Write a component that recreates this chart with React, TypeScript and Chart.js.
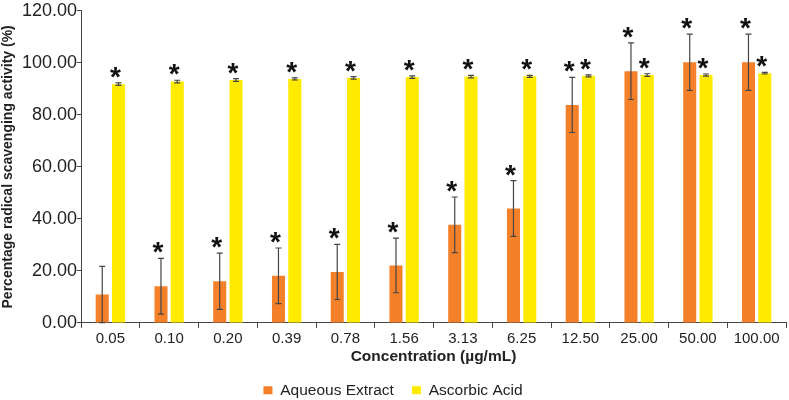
import { useEffect, useRef } from 'react';
import { Chart, registerables } from 'chart.js';

Chart.register(...registerables);

const concentrations = ['0.05', '0.10', '0.20', '0.39', '0.78', '1.56', '3.13', '6.25', '12.50', '25.00', '50.00', '100.00'];
const aqueousValues = [10.9, 14.1, 16.0, 18.1, 19.6, 22.1, 37.7, 44.0, 83.8, 96.8, 100.2, 100.2];
const aqueousErrors = [10.8, 10.7, 10.8, 10.7, 10.6, 10.5, 10.7, 10.7, 10.6, 10.9, 10.8, 10.8];
const ascorbicValues = [91.8, 92.8, 93.4, 93.8, 94.2, 94.5, 94.7, 94.8, 95.0, 95.3, 95.3, 96.0];
const ascorbicErrors = [0.5, 0.5, 0.5, 0.4, 0.5, 0.5, 0.5, 0.4, 0.4, 0.5, 0.4, 0.3];
const aqueousStars = [false, true, true, true, true, true, true, true, true, true, true, true];
const ascorbicStars = [true, true, true, true, true, true, true, true, true, true, true, true];

const FONT = '"Liberation Sans", Arial, sans-serif';

const errorBarPlugin = {
  id: 'errorBars',
  afterDatasetsDraw(chart: any) {
    const ctx = chart.ctx;
    const yScale = chart.scales.y;
    const errs = [aqueousErrors, ascorbicErrors];
    const stars = [aqueousStars, ascorbicStars];
    chart.data.datasets.forEach((ds: any, di: number) => {
      const meta = chart.getDatasetMeta(di);
      meta.data.forEach((bar: any, i: number) => {
        const v = ds.data[i];
        const e = errs[di][i];
        const top = yScale.getPixelForValue(v + e);
        const bottom = yScale.getPixelForValue(Math.max(0, v - e));
        ctx.save();
        ctx.strokeStyle = '#444';
        ctx.lineWidth = 1.2;
        ctx.beginPath();
        ctx.moveTo(bar.x, top);
        ctx.lineTo(bar.x, bottom);
        ctx.moveTo(bar.x - 3, top);
        ctx.lineTo(bar.x + 3, top);
        ctx.moveTo(bar.x - 3, bottom);
        ctx.lineTo(bar.x + 3, bottom);
        ctx.stroke();
        if (stars[di][i]) {
          ctx.fillStyle = '#111';
          ctx.font = 'bold 28px ' + FONT;
          ctx.textAlign = 'center';
          ctx.textBaseline = 'alphabetic';
          ctx.fillText('*', bar.x - 3, top + 3);
        }
        ctx.restore();
      });
    });
  },
};

export default function App() {
  const canvasRef = useRef<HTMLCanvasElement>(null);
  const chartRef = useRef<Chart | null>(null);

  useEffect(() => {
    document.body.style.margin = '0';
    if (!canvasRef.current) return;
    const ctx = canvasRef.current.getContext('2d');
    if (!ctx) return;

    chartRef.current = new Chart(ctx, {
      type: 'bar',
      data: {
        labels: concentrations,
        datasets: [
          {
            label: 'Aqueous Extract',
            data: aqueousValues,
            backgroundColor: '#F5802A',
            categoryPercentage: 0.555,
            barPercentage: 0.8,
          },
          {
            label: 'Ascorbic Acid',
            data: ascorbicValues,
            backgroundColor: '#FFEB00',
            categoryPercentage: 0.555,
            barPercentage: 0.8,
          },
        ],
      },
      options: {
        animation: false,
        responsive: false,
        layout: { padding: { top: 2, right: 3, left: 0, bottom: -8 } },
        plugins: {
          legend: {
            position: 'bottom',
            labels: {
              color: '#222',
              font: { family: FONT, size: 15.5 },
              boxWidth: 9,
              boxHeight: 8,
              padding: 18,
            },
          },
          tooltip: { enabled: false },
        },
        scales: {
          x: {
            grid: {
              display: true,
              drawOnChartArea: false,
              drawTicks: true,
              tickLength: 5,
              color: '#444',
            },
            border: { display: true, color: '#444' },
            ticks: {
              color: '#222',
              font: { family: FONT, size: 15 },
              padding: 2,
              maxRotation: 0,
              autoSkip: false,
            },
            title: {
              display: true,
              text: 'Concentration (µg/mL)',
              color: '#222',
              font: { family: FONT, size: 15.5, weight: 'bold' },
              padding: { top: -2, bottom: -2 },
            },
          },
          y: {
            min: 0,
            max: 120,
            afterFit: (scale: any) => {
              scale.width = 81;
            },
            grid: {
              display: true,
              drawOnChartArea: false,
              drawTicks: true,
              tickLength: 4,
              color: '#444',
            },
            border: { display: true, color: '#444' },
            ticks: {
              stepSize: 20,
              color: '#222',
              font: { family: FONT, size: 18 },
              padding: 0,
              callback: (value: any) => Number(value).toFixed(2),
            },
            title: {
              display: true,
              text: 'Percentage radical scavenging activity (%)',
              color: '#222',
              font: { family: FONT, size: 14, weight: 'bold' },
              padding: { top: 0, bottom: 0 },
            },
          },
        },
      },
      plugins: [errorBarPlugin],
    });

    return () => {
      if (chartRef.current) {
        chartRef.current.destroy();
        chartRef.current = null;
      }
    };
  }, []);

  return (
    <div style={{ width: 789, height: 400 }}>
      <canvas ref={canvasRef} width={789} height={400}></canvas>
    </div>
  );
}
